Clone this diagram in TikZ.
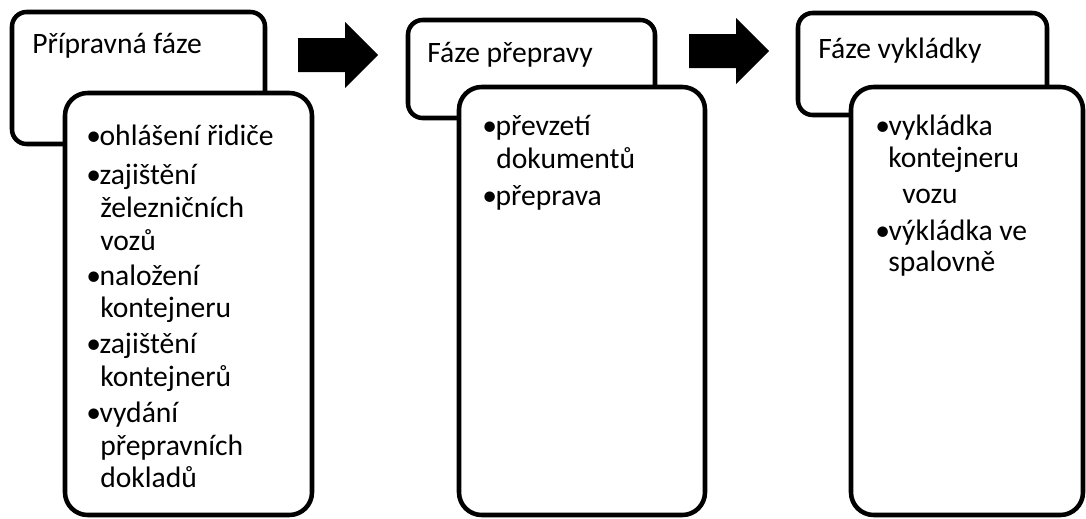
\documentclass[tikz,border=0pt]{standalone}
\usepackage{fontspec}
\setmainfont{Carlito}
\usetikzlibrary{positioning}
\tikzset{
  head/.style={draw, line width=3.4pt, rounded corners=11pt, fill=white, inner sep=0pt},
  body/.style={draw, line width=3.4pt, rounded corners=17pt, fill=white, inner sep=0pt},
  txt/.style={anchor=base west, inner sep=0pt, font=\fontsize{22.2}{26}\selectfont},
}
\newcommand{\bul}{\makebox[10pt][l]{•}}

\begin{document}
\begin{tikzpicture}[x=0.75pt,y=-0.75pt]
      \useasboundingbox (0,0) rectangle (1086,518);
      \node[head, minimum width=189.75pt, minimum height=99pt] (head1) at (138.5,78) {};
      \node[body, minimum width=185.25pt, minimum height=316.5pt] (body1) at (188.5,304) {};
      \node[head, minimum width=185.25pt, minimum height=73.5pt] (head2) at (531.5,69) {};
      \node[body, minimum width=184.5pt, minimum height=321pt] (body2) at (582,301) {};
      \node[head, minimum width=186.75pt, minimum height=76.5pt] (head3) at (922.5,64) {};
      \node[body, minimum width=174pt, minimum height=321pt] (body3) at (967,301) {};
      \node[txt] (title1) at (32,53) {Přípravná fáze};
      \node[txt] (title2) at (427,62) {Fáze přepravy};
      \node[txt] (title3) at (818,58) {Fáze vykládky};
      \foreach \x/\y/\t [count=\i] in {
          86/145/{\bul ohlášení řidiče},
          86/184/{\bul zajištění},
          100/217/{železničních},
          100/250/{vozů},
          86/285/{\bul naložení},
          100/317/{kontejneru},
          86/353/{\bul zajištění},
          100/386/{kontejnerů},
          86/422/{\bul vydání},
          100/455/{přepravních},
          100/487/{dokladů},
          482/135/{\bul převzetí},
          496/168/{dokumentů},
          482/205/{\bul přeprava},
          875/135/{\bul vykládka},
          888/167/{kontejneru},
          902/203/{vozu},
          875/240/{\bul výkládka ve},
          888/271/{spalovně}}
        \node[txt] (line\i) at (\x,\y) {\t};
      \coordinate (arr1) at (298,55);
      \coordinate (arr2) at (689,51);
      \foreach \a in {arr1,arr2}
        \fill (\a) ++(0,-17) -- ++(47,0) -- ++(0,-16) -- ++(33,33) -- ++(-33,33) -- ++(0,-16) -- ++(-47,0) -- cycle;
    \end{tikzpicture}
\end{document}
